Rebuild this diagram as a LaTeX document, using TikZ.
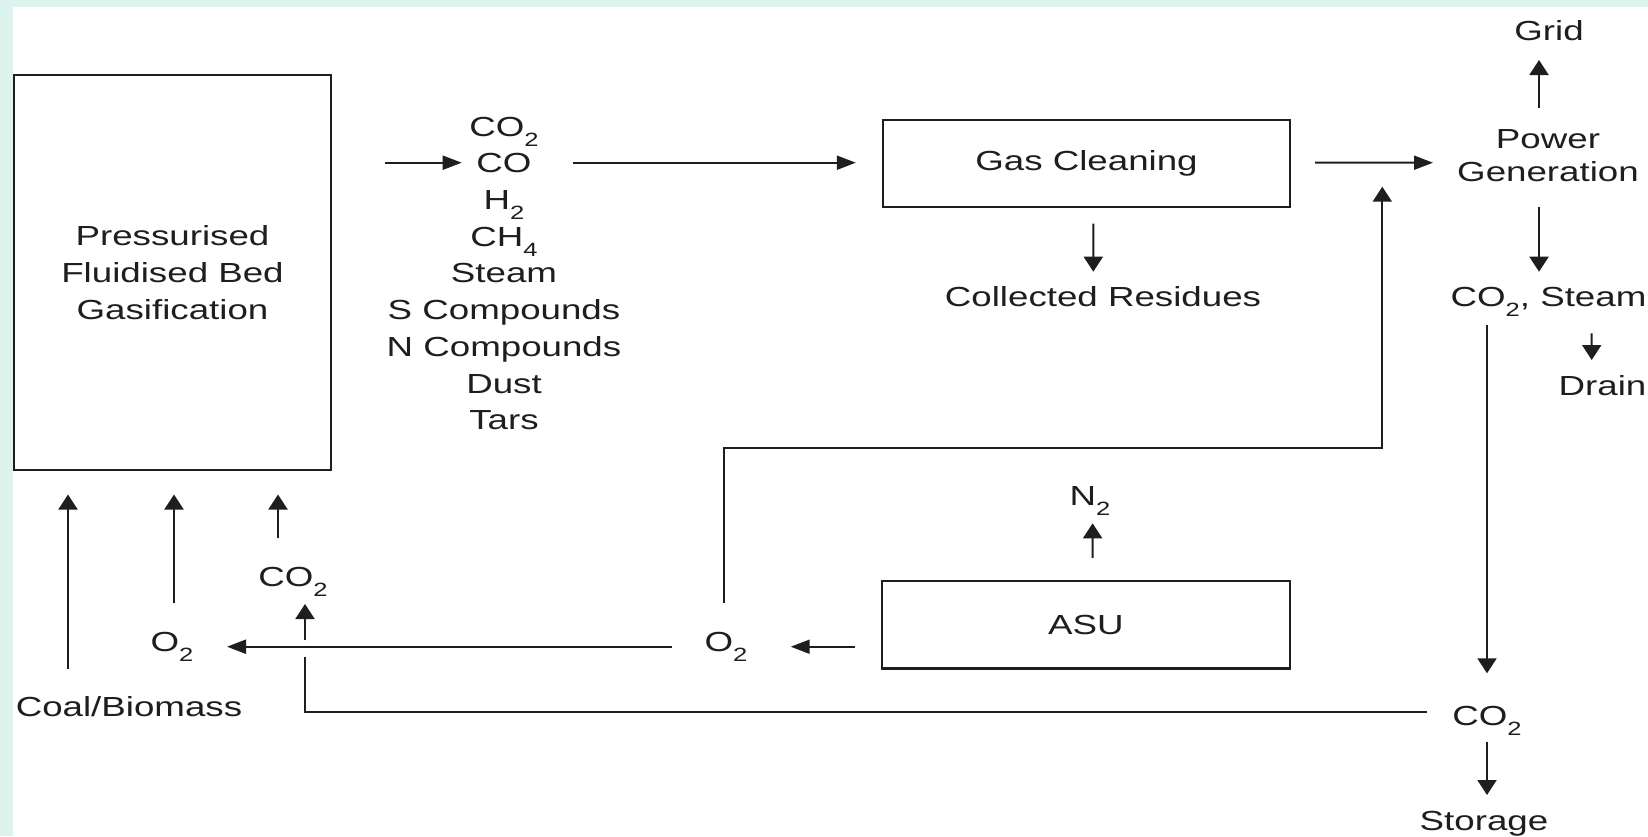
\documentclass[tikz,border=0pt]{standalone}
\usepackage{fontspec}
\setmainfont{Liberation Sans}[FakeStretch=1.33]
\usetikzlibrary{arrows.meta,calc}
\definecolor{mint}{RGB}{220,244,237}
\definecolor{ink}{RGB}{30,30,30}
\newcommand\subs[1]{\raisebox{-5pt}{\fontsize{9.6}{10}\selectfont #1}}
\begin{document}
\begin{tikzpicture}[x=0.5pt,y=-0.5pt,
  txt/.style={inner sep=0pt, outer sep=0pt, text=ink, font=\fontsize{13.8}{16}\selectfont},
  lbl/.style={txt, anchor=base},
  procbox/.style={draw=ink, line width=1.2pt, inner sep=0pt, align=center, text=ink, font=\fontsize{13.8}{18.6}\selectfont},
  conn/.style={draw=ink, line width=1pt},
  arrV/.style={conn, -{Triangle[length=7.5pt,width=9.5pt]}},
  arrH/.style={conn, -{Triangle[length=9.5pt,width=7pt]}},
]
\fill[mint] (0,0) rectangle (1648,836);
\fill[white] (12.7,6.5) rectangle (1648,836);
\useasboundingbox (0,0) rectangle (1648,836);

% boxes
\node[procbox, minimum width=158.5pt, minimum height=197.5pt] (gasif) at (172.5,272.5) {Pressurised\\Fluidised Bed\\Gasification};
\node[procbox, minimum width=203.5pt, minimum height=43.35pt] (gc) at (1086.5,163.35) {Gas Cleaning};
\node[procbox, minimum width=204.15pt, minimum height=43.65pt] (asu) at (1085.9,624.7) {ASU};

% labels
\node[txt, align=center, font=\fontsize{13.8}{18.35}\selectfont] (gl) at (504,273.4) {CO\subs{2}\\CO\\H\subs{2}\\CH\subs{4}\\Steam\\S Compounds\\N Compounds\\Dust\\Tars};
\node[lbl] (cr) at (1103,306.7) {Collected Residues};
\node[txt, align=center, font=\fontsize{13.8}{16.15}\selectfont] (pg) at (1548,155.7) {Power\\Generation};
\node[lbl] (grid) at (1549,40) {Grid};
\node[lbl] (cs) at (1548.5,306.7) {CO\subs{2}, Steam};
\node[lbl] (drain) at (1602.5,395) {Drain};
\node[lbl] (co2b) at (1487,725) {CO\subs{2}};
\node[lbl] (stor) at (1484,830) {Storage};
\node[lbl] (n2) at (1090,505) {N\subs{2}};
\node[lbl] (o2r) at (726,651.7) {O\subs{2}};
\node[lbl] (o2l) at (172,651.7) {O\subs{2}};
\node[lbl] (co2m) at (293,586.7) {CO\subs{2}};
\node[lbl] (coal) at (129,716.7) {Coal/Biomass};

% connectors
\draw[arrH] ($(gasif.east)+(53,-109.8)$) -- ($(gl.center)+(-42.3,-110.7)$);
\draw[arrH] ($(gl.center)+(69,-110.7)$) -- ($(gc.west)+(-26,-0.65)$);
\draw[arrH] ($(gc.east)+(24,-0.65)$) -- ($(pg.center)+(-115,7)$);
\draw[arrV] ($(pg.center)+(-9,-47.7)$) -- ($(grid.base)+(-10,20)$);
\draw[arrV] ($(pg.center)+(-9,51)$) -- ($(cs.base)+(-9.5,-35)$);
\draw[arrV] ($(gc.south)+(6.8,15.6)$) -- ($(cr.base)+(-9.7,-35)$);
\draw[arrV] ($(cs.base)+(43.2,26.6)$) -- ($(drain.base)+(-10.8,-35)$);
\draw[arrV] ($(cs.base)+(-61.5,18.3)$) -- ($(co2b.base)+(0,-51.7)$);
\draw[arrV] ($(co2b.base)+(0,16.7)$) -- ($(stor.base)+(3,-35)$);
\draw[conn] ($(co2b.base)+(-59.7,-13.3)$) -| ($(co2m.base)+(12,70.3)$);
\draw[arrV] ($(co2m.base)+(12,53.3)$) -- ($(co2m.base)+(12,17.3)$);
\draw[arrV] ($(co2m.base)+(-15,-49)$) -- ($(gasif.south)+(105.5,23.3)$);
\draw[arrV] ($(o2l.base)+(2,-48.4)$) -- ($(gasif.south)+(1.5,23.3)$);
\draw[arrV] ($(coal.base)+(-61,-47.7)$) -- ($(gasif.south)+(-104.5,23.3)$);
\draw[arrH] ($(o2r.base)+(-53.6,-5)$) -- ($(o2l.base)+(55,-5)$);
\draw[arrH] ($(asu.west)+(-25.7,22)$) -- ($(o2r.base)+(64.7,-5)$);
\draw[arrV] ($(o2r.base)+(-1.7,-49)$) |- ($(pg.center)+(-165.7,292.6)$) -- ($(pg.center)+(-165.7,31)$);
\draw[arrV] ($(asu.north)+(6.7,-22)$) -- ($(n2.base)+(2.6,18.3)$);
\end{tikzpicture}
\end{document}
